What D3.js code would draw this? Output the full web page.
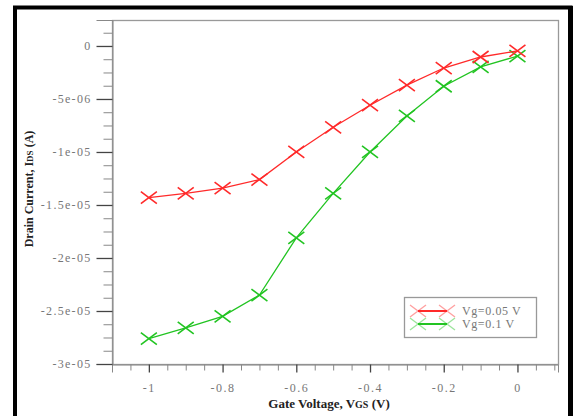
<!DOCTYPE html>
<html>
<head>
<meta charset="utf-8">
<script src="https://cdn.jsdelivr.net/npm/d3@7"></script>
<style>
  body { margin: 0; background: #fff; }
  svg { display: block; }
</style>
</head>
<body>
<script>
// Chart data ---------------------------
const gateVoltage = [-1, -0.9, -0.8, -0.7, -0.6, -0.5, -0.4, -0.3, -0.2, -0.1, 0];
const idsVg005 = [-1.43e-5, -1.39e-5, -1.34e-5, -1.26e-5, -1.0e-5, -7.67e-6, -5.59e-6, -3.7e-6, -2.08e-6, -1.04e-6, -0.47e-6];
const idsVg01 = [-2.76e-5, -2.66e-5, -2.55e-5, -2.35e-5, -1.81e-5, -1.39e-5, -1.0e-5, -6.6e-6, -3.8e-6, -1.97e-6, -0.95e-6];
const seriesNames = ['Vg=0.05 V', 'Vg=0.1 V'];
const xTickValues = [-1, -0.8, -0.6, -0.4, -0.2, 0];
const xTickLabels = ['-1', '-0.8', '-0.6', '-0.4', '-0.2', '0'];
const yTickValues = [0, -5e-6, -1e-5, -1.5e-5, -2e-5, -2.5e-5, -3e-5];
const yTickLabels = ['0', '-5e-06', '-1e-05', '-1.5e-05', '-2e-05', '-2.5e-05', '-3e-05'];

const width = 576, height = 416;
const plot = {left: 112, top: 20, right: 558, bottom: 364};
const colors = ['#ff2a2a', '#22c422'];
const serif = '"Liberation Serif", "DejaVu Serif", serif';

const svg = d3.select('body').append('svg')
  .attr('width', width)
  .attr('height', height);

// Outer black frame
svg.append('path')
  .attr('d', `M15,416 V7.5 H570.5 V416`)
  .attr('fill', 'none')
  .attr('stroke', '#000')
  .attr('stroke-width', 4);
svg.append('rect')
  .attr('x', 13).attr('y', 6).attr('width', 4).attr('height', 410).attr('fill', '#000');
svg.append('rect')
  .attr('x', 568).attr('y', 6).attr('width', 5).attr('height', 410).attr('fill', '#000');

// Scales -------------------------------
const x = d3.scaleLinear().domain([-1.1, 0.11]).range([plot.left, plot.right]);
const y = d3.scaleLinear().domain([-3e-5, 2.45e-6]).range([plot.bottom, plot.top]);

// Plot frame
svg.append('rect')
  .attr('x', plot.left + 0.5).attr('y', plot.top + 0.5)
  .attr('width', plot.right - plot.left).attr('height', plot.bottom - plot.top)
  .attr('fill', '#fff')
  .attr('stroke', '#999')
  .attr('stroke-width', 1.3);

// Minor ticks
const xMinor = d3.range(-22, 3).map(i => i * 0.05).filter(v => !xTickValues.some(t => Math.abs(t - v) < 1e-9));
const yMinor = d3.range(-24, 2).map(i => i * 1.25e-6).filter(v => v % 5e-6 !== 0 && Math.abs(v / 5e-6 - Math.round(v / 5e-6)) > 1e-6);

svg.append('g')
  .attr('transform', `translate(0,${plot.bottom + 0.5})`)
  .call(d3.axisBottom(x).tickValues(xMinor).tickSize(6).tickFormat(''))
  .call(g => g.select('.domain').remove())
  .call(g => g.selectAll('line').attr('stroke', '#888'));

svg.append('g')
  .attr('transform', `translate(${plot.left + 0.5},0)`)
  .call(d3.axisLeft(y).tickValues(yMinor.filter(v => y(v) >= plot.top - 0.5)).tickSize(9).tickFormat(''))
  .call(g => g.select('.domain').remove())
  .call(g => g.selectAll('line').attr('stroke', '#888'));

// Major axes
const xAxis = svg.append('g')
  .attr('transform', `translate(0,${plot.bottom + 0.5})`)
  .call(d3.axisBottom(x).tickValues(xTickValues).tickSize(8).tickPadding(11)
    .tickFormat((d, i) => xTickLabels[i]));
xAxis.select('.domain').attr('stroke', '#888');
xAxis.selectAll('line').attr('stroke', '#444').attr('stroke-width', 1.3);
xAxis.selectAll('text')
  .attr('fill', '#777')
  .style('font-family', serif)
  .style('font-size', '12px')
  .style('letter-spacing', '1.5px');

const yAxis = svg.append('g')
  .attr('transform', `translate(${plot.left + 0.5},0)`)
  .call(d3.axisLeft(y).tickValues(yTickValues).tickSize(16).tickPadding(5)
    .tickFormat((d, i) => yTickLabels[i]));
yAxis.select('.domain').attr('stroke', '#888');
yAxis.selectAll('line').attr('stroke', '#444').attr('stroke-width', 1.3);
yAxis.selectAll('text')
  .attr('fill', '#777')
  .style('font-family', serif)
  .style('font-size', '12px')
  .style('letter-spacing', '1.3px');

// Axis titles
const xTitle = svg.append('text')
  .attr('x', 329).attr('y', 408)
  .attr('text-anchor', 'middle')
  .style('font-family', serif)
  .style('font-size', '13px')
  .style('font-weight', 'bold')
  .attr('fill', '#222');
xTitle.append('tspan').text('Gate Voltage, V');
xTitle.append('tspan').style('font-size', '10px').text('GS');
xTitle.append('tspan').text(' (V)');

const yTitle = svg.append('text')
  .attr('transform', 'translate(33,189) rotate(-90)')
  .attr('text-anchor', 'middle')
  .style('font-family', serif)
  .style('font-size', '12px')
  .style('font-weight', 'bold')
  .attr('fill', '#222');
yTitle.append('tspan').text('Drain Current, I');
yTitle.append('tspan').style('font-size', '9px').text('DS');
yTitle.append('tspan').text(' (A)');

// Series -------------------------------
const series = [idsVg005, idsVg01].map((vals, k) => ({
  name: seriesNames[k],
  color: colors[k],
  points: gateVoltage.map((v, i) => [v, vals[i]])
}));

const line = d3.line().x(d => x(d[0])).y(d => y(d[1]));
const cross = (cx, cy, w, h) => `M${cx - w},${cy - h}L${cx + w},${cy + h}M${cx - w},${cy + h}L${cx + w},${cy - h}`;

// draw green first so red sits on top near zero
series.slice().reverse().forEach(s => {
  svg.append('path')
    .datum(s.points)
    .attr('d', line)
    .attr('fill', 'none')
    .attr('stroke', s.color)
    .attr('stroke-width', 1.3);
  svg.append('g')
    .selectAll('path')
    .data(s.points)
    .join('path')
    .attr('d', d => cross(x(d[0]), y(d[1]), 8, 6))
    .attr('stroke', s.color)
    .attr('stroke-width', 1.6)
    .attr('fill', 'none');
});

// Legend -------------------------------
const legend = svg.append('g');
legend.append('rect')
  .attr('x', 404.5).attr('y', 297.5)
  .attr('width', 132).attr('height', 40)
  .attr('fill', '#fff')
  .attr('stroke', '#999')
  .attr('stroke-width', 1.3);

series.forEach((s, k) => {
  const ly = 311 + k * 13;
  legend.append('line')
    .attr('x1', 418).attr('x2', 447)
    .attr('y1', ly).attr('y2', ly)
    .attr('stroke', s.color)
    .attr('stroke-width', 2);
  [418, 447].forEach(mx => {
    legend.append('path')
      .attr('d', cross(mx, ly, 8, 6))
      .attr('stroke', s.color)
      .attr('stroke-opacity', 0.45)
      .attr('stroke-width', 1.3)
      .attr('fill', 'none');
  });
  legend.append('text')
    .attr('x', 462).attr('y', ly + 4)
    .attr('fill', '#777')
    .style('font-family', serif)
    .style('font-size', '12px')
    .style('letter-spacing', '0.6px')
    .text(s.name);
});
</script>
</body>
</html>
